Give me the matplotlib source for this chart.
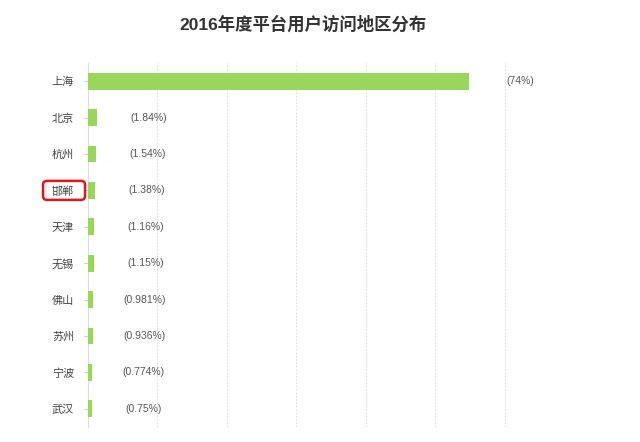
import matplotlib.pyplot as plt
from matplotlib.patches import FancyBboxPatch
import numpy as np

plt.rcParams['font.family'] = ['Liberation Sans', 'Noto Sans CJK SC']

# data
cities = ['上海', '北京', '杭州', '邯郸', '天津', '无锡', '佛山', '苏州', '宁波', '武汉']
shares = [74, 1.84, 1.54, 1.38, 1.16, 1.15, 0.981, 0.936, 0.774, 0.75]
labels = ['(74%)', '(1.84%)', '(1.54%)', '(1.38%)', '(1.16%)', '(1.15%)',
          '(0.981%)', '(0.936%)', '(0.774%)', '(0.75%)']

fig = plt.figure(figsize=(6.4, 4.42), dpi=100)
ax = fig.add_axes([0.1375, 0.034, 0.7594, 0.8235])

y = np.arange(len(cities))
ax.barh(y, shares, height=0.46, color='#98d75b', zorder=3)

xmax = 94.4
ax.set_xlim(0, xmax)
ax.set_ylim(len(cities) - 0.5, -0.5)

# vertical dotted grid
ax.set_xticks(np.linspace(0, xmax, 8))
ax.tick_params(axis='x', length=0, labelbottom=False)
ax.grid(axis='x', color='#dcdcdc', linestyle=(0, (1.5, 1.5)), linewidth=0.8, zorder=0)

ax.set_yticks(y)
ax.set_yticklabels(cities, fontsize=8, color='#444444')
ax.tick_params(axis='y', length=3, width=0.8, color='#cccccc', pad=7)

for s in ['top', 'right', 'bottom']:
    ax.spines[s].set_visible(False)
ax.spines['left'].set_color('#dddddd')

# value labels to the right of each bar
for i, (v, t) in enumerate(zip(shares, labels)):
    ax.annotate(t, (v, i), xytext=(37, 0), textcoords='offset points',
                ha='center', va='center', fontsize=7.5, color='#555555')

# red highlight box around 邯郸 label
row = cities.index('邯郸')
_, yc = ax.transData.transform((0, row))
yc = yc / fig.dpi
box = FancyBboxPatch((0.43, yc - 0.095), 0.42, 0.19,
                     boxstyle='round,pad=0,rounding_size=0.04',
                     transform=fig.dpi_scale_trans, fc='none', ec='#e8141c',
                     lw=1.8, clip_on=False)
fig.add_artist(box)

fig.suptitle('2016年度平台用户访问地区分布', x=0.473, y=0.965,
             fontsize=12.5, fontweight='bold', color='#333333')

fig.savefig('out.png', dpi=100)
